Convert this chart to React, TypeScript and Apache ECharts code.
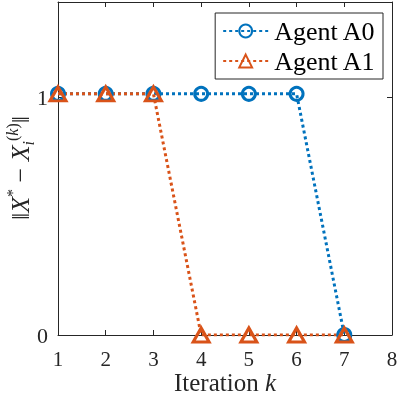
import React, { useEffect, useRef } from "react";
import * as echarts from "echarts";

const iterations = [1, 2, 3, 4, 5, 6, 7];
const agentA0 = [1.014, 1.014, 1.014, 1.014, 1.014, 1.014, 0];
const agentA1 = [1.014, 1.014, 1.014, 0, 0, 0, 0];
const seriesNames = ["Agent A0", "Agent A1"];
const xTicks = [1, 2, 3, 4, 5, 6, 7, 8];
const yTicks = [0, 1];

const BLUE = "#0072BD";
const ORANGE = "#D95319";
const AX = "#262626";
const FONT = "Liberation Serif";

export default function App() {
  const ref = useRef<HTMLDivElement>(null);
  useEffect(() => {
    if (!ref.current) return;
    const chart = echarts.init(ref.current, undefined, { renderer: "svg" });
    const axisCommon = {
      axisLine: { show: true, onZero: false, lineStyle: { color: AX, width: 1 } },
      axisTick: { show: true, inside: true, length: 5, lineStyle: { color: AX, width: 1 } },
      splitLine: { show: false },
    };
    const mk = (name: string, data: number[], color: string, symbol: string, size: any) => ({
      name,
      type: "line",
      data: iterations.map((x, i) => [x, data[i]]),
      symbol,
      symbolSize: size,
      showAllSymbol: true,
      lineStyle: { color, width: 3, type: [3, 3], cap: "butt" },
      itemStyle: { color: "rgba(255,255,255,0)", borderColor: color, borderWidth: 3 },
      emphasis: { disabled: true },
    });
    chart.setOption({
      animation: false,
      grid: { left: 58, right: 7, top: 2, bottom: 59, containLabel: false, outerBoundsMode: "none" },
      xAxis: [
        {
          type: "value",
          min: xTicks[0],
          max: xTicks[xTicks.length - 1],
          interval: 1,
          position: "bottom",
          ...axisCommon,
          axisLabel: { color: AX, fontFamily: FONT, fontSize: 21, margin: 13 },
        },
        {
          type: "value",
          min: xTicks[0],
          max: xTicks[xTicks.length - 1],
          interval: 1,
          position: "top",
          ...axisCommon,
          axisLabel: { show: false },
        },
      ],
      yAxis: [
        {
          type: "value",
          min: yTicks[0],
          max: 1.4,
          interval: 1,
          position: "left",
          ...axisCommon,
          axisLabel: { color: AX, fontFamily: FONT, fontSize: 22, margin: 10, showMaxLabel: false },
        },
        {
          type: "value",
          min: yTicks[0],
          max: 1.4,
          interval: 1,
          position: "right",
          ...axisCommon,
          axisLabel: { show: false },
        },
      ],
      legend: {
        data: seriesNames,
        orient: "vertical",
        right: 16,
        top: 13,
        padding: [5, 7, 5, 7],
        itemGap: 4,
        itemWidth: 45,
        itemHeight: 16,
        backgroundColor: "#fff",
        borderColor: AX,
        borderWidth: 1,
        borderRadius: 0,
        textStyle: { fontFamily: FONT, fontSize: 26, color: "#000", padding: [0, 0, 0, 1] },
      },
      graphic: [
        {
          type: "text",
          x: 225,
          y: 382,
          style: {
            text: "{n|Iteration }{i|k}",
            align: "center",
            verticalAlign: "middle",
            rich: {
              n: { fontFamily: FONT, fontSize: 25, lineHeight: 24, fill: AX },
              i: { fontFamily: FONT, fontSize: 25, lineHeight: 24, fontStyle: "italic", fill: AX },
            },
          },
        },
        {
          type: "text",
          x: 20,
          y: 168,
          rotation: Math.PI / 2,
          style: {
            text: "{n|‖}{i|X}{s|*}{n| − }{i|X}{b|i}{s|(}{si|k}{s|)}{n|‖}",
            align: "center",
            verticalAlign: "middle",
            rich: {
              n: { fontFamily: FONT, fontSize: 26, fill: AX },
              i: { fontFamily: FONT, fontSize: 26, fontStyle: "italic", fill: AX },
              s: { fontFamily: FONT, fontSize: 16, fill: AX, verticalAlign: "top", lineHeight: 32 },
              si: { fontFamily: FONT, fontSize: 16, fontStyle: "italic", fill: AX, verticalAlign: "top", lineHeight: 32 },
              b: { fontFamily: FONT, fontSize: 16, fontStyle: "italic", fill: AX, verticalAlign: "bottom", lineHeight: 32 },
            },
          },
        },
      ],
      series: [
        mk(seriesNames[0], agentA0, BLUE, "circle", 13),
        mk(seriesNames[1], agentA1, ORANGE, "triangle", [16, 14]),
      ],
    });
    return () => chart.dispose();
  }, []);
  return <div ref={ref} style={{ position: "fixed", left: 0, top: 0, width: 399, height: 394 }} />;
}
